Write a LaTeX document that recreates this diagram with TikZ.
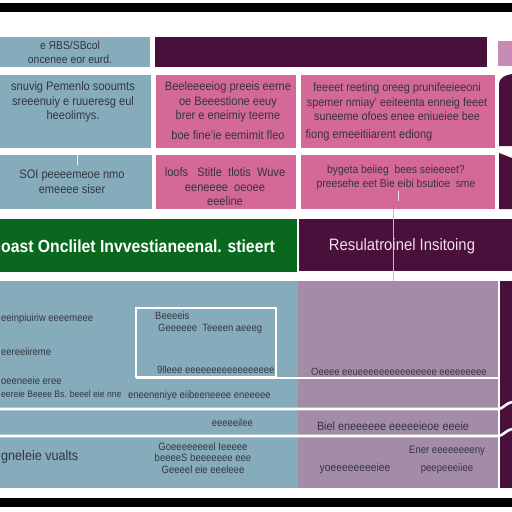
\documentclass[tikz,border=0pt]{standalone}
\usepackage{fontspec}
\setmainfont{Liberation Sans}[FakeStretch=0.9]
\definecolor{slate}{RGB}{134,172,188}
\definecolor{rose}{RGB}{212,104,152}
\definecolor{plum}{RGB}{74,16,60}
\definecolor{mauve}{RGB}{164,140,168}
\definecolor{forest}{RGB}{10,104,30}
\definecolor{lilac}{RGB}{200,140,180}
\definecolor{ink}{RGB}{52,52,64}
\definecolor{blush}{RGB}{240,222,234}
\newcommand{\fsz}[2]{\fontsize{#1}{#2}\selectfont}
\begin{document}
\begin{tikzpicture}[x=1pt,y=-1pt,
  txt/.style={inner sep=0pt, text=ink, align=center, font=\fsz{12.3}{14.5}},
  ltxt/.style={txt, anchor=west, align=left},
  small/.style={font=\fsz{10.5}{12}},
  head/.style={inner sep=0pt},
  rule/.style={draw=white, line width=2.6pt},
  hair/.style={draw=blush, line width=0.8pt}]
\useasboundingbox (0,0) rectangle (512,512);
\fill[white] (0,0) rectangle (512,512);
% frame bars
\fill[black] (0,3) rectangle (512,12);
\fill[black] (0,498) rectangle (512,507);
% row 1
\fill[slate] (0,37) rectangle (150,67);
\fill[plum] (155,37) rectangle (487,67);
\fill[lilac] (498,41) rectangle (512,66);
% row 2
\fill[slate] (0,75) rectangle (151,148);
\fill[rose] (156,75) rectangle (296,148);
\fill[rose] (301,75) rectangle (495,148);
\fill[plum] (499,146) -- (499,84) .. controls (499,78) and (505,75) .. (512,74) -- (512,146) -- cycle;
% row 3
\fill[slate] (0,155) rectangle (152,209);
\fill[rose] (156,155) rectangle (296,209);
\fill[rose] (301,155) rectangle (495,209);
\fill[plum] (499,209) -- (499,153) -- (512,158) -- (512,209) -- cycle;
% headers
\fill[forest] (0,219) rectangle (297,272);
\fill[plum] (299,219) rectangle (512,271);
% lower panel
\fill[slate] (0,281) rectangle (298,488);
\fill[mauve] (298,281) rectangle (498,488);
\fill[plum] (500,281) rectangle (512,488);

% guide ticks and the vertical link
\coordinate (t1a) at (77,155); \coordinate (t1b) at (77,165);
\draw[hair, draw=white!85!slate] (t1a) -- (t1b);
\coordinate (t2a) at (398,191); \coordinate (t2b) at (398,201);
\draw[hair] (t2a) -- (t2b);
\coordinate (va) at (393,209); \coordinate (vb) at (393,281);
\draw[hair, draw=blush!80!plum] (va) -- (vb);

% inner frame and rules of the lower panel
\draw[white, line width=1.5pt] (136,308) rectangle (276,377);
\coordinate (r0a) at (136,378); \coordinate (r0b) at (498,378);
\draw[rule] (r0a) -- (r0b);
\coordinate (r1a) at (0,409); \coordinate (r1b) at (498,409); \coordinate (r1c) at (512,402);
\draw[rule] (r1a) -- (r1b) .. controls (503,409) and (506,403) .. (r1c);
\coordinate (r2a) at (0,436); \coordinate (r2b) at (498,436); \coordinate (r2c) at (512,429);
\draw[rule] (r2a) -- (r2b) .. controls (503,436) and (506,430) .. (r2c);

% row 1 texts
\node[txt, font=\fsz{11.5}{14}] (a1) at (70,52) {e ЯBS/SBcol\\oncenee eor eurd.};
% row 2 texts
\node[txt] (a2) at (73,102) {snuvig Pemenlo sooumts\\sreeenuiy e ruueresg eul\\heeolimys.};
\node[txt] (b2) at (228,102) {Beeleeeeiog preeis eerne\\oe Beeestione eeuy\\brer e eneimiy teerne};
\node[txt] (b2x) at (228,135) {boe fine'ie eemimit fleo};
\node[txt, font=\fsz{12}{14.5}] (c2) at (397,102) {feeeet reeting oreeg prunifeeieeoni\\spemer nmiay' eeiteenta enneig feeet\\suneeme ofoes enee eniueiee bee};
\node[txt] (c2x) at (369,135) {fiong emeeitiiarent ediong};
% row 3 texts
\node[txt] (a3) at (72,182) {SOI peeeemeoe nmo\\emeeee siser};
\node[txt] (b3) at (225,187) {loofs \ \ Stitle \ tlotis \ Wuve\\eeneeee \ oeoee\\eeeline};
\node[txt, font=\fsz{11.5}{14}] (c3) at (396,178) {bygeta beiieg \ bees seieeeet?\\preesehe eet Bie eibi bsutioe \ sme};
% headers
\node[head, text=white, anchor=west, font=\fsz{17.5}{19}\bfseries] (h1) at (1,246) {oast Onclilet Invvestianeenal. stieert};
\node[head, text=blush, font=\fsz{16.5}{19}] (h2) at (402,246) {Resulatroinel Insitoing};

% lower panel texts
\node[ltxt, small] (l1) at (1,319) {eeinpiuiriw eeeemeee};
\node[ltxt, small] (l2) at (1,352) {eereeiireme};
\node[ltxt, small] (l3) at (1,381) {oeeneeie eree};
\node[ltxt, font=\fsz{9.5}{12}] (l4) at (1,394) {eereie Beeee Bs. beeel eie nne};
\node[ltxt, small] (l5) at (128,396) {eneeneniye eiibeeneeee eneeeee};
\node[ltxt, small] (i1) at (155,316) {Beeeeis};
\node[ltxt, small] (i2) at (158,329) {Geeeeee \ Teeeen aeeeg};
\node[ltxt, small] (i3) at (157,370) {9lleee eeeeeeeeeeeeeeeee};
\node[txt, small] (p1) at (399,372) {Oeeee eeueeeeeeeeeeeeeee eeeeeeeee};
\node[txt, small, anchor=east] (m1) at (253,423) {eeeeeilee};
\node[txt, font=\fsz{12}{14}] (m2) at (393,426) {Biel eneeeeee eeeeeieoe eeeie};
\node[ltxt, font=\fsz{14}{16}] (n1) at (1,457) {gneleie vualts};
\node[txt, font=\fsz{10.6}{11.5}] (n2) at (203,458) {Goeeeeeeeel Ieeeee\\beeeeS beeeeeee eee\\Geeeel eie eeeleee};
\node[txt, font=\fsz{11.5}{13}] (n3) at (355,469) {yoeeeeeeeeiee};
\node[txt, font=\fsz{10.7}{18}] (n4) at (447,460) {Ener eeeeeeeeny\\peepeeeiiee};
\end{tikzpicture}
\end{document}
